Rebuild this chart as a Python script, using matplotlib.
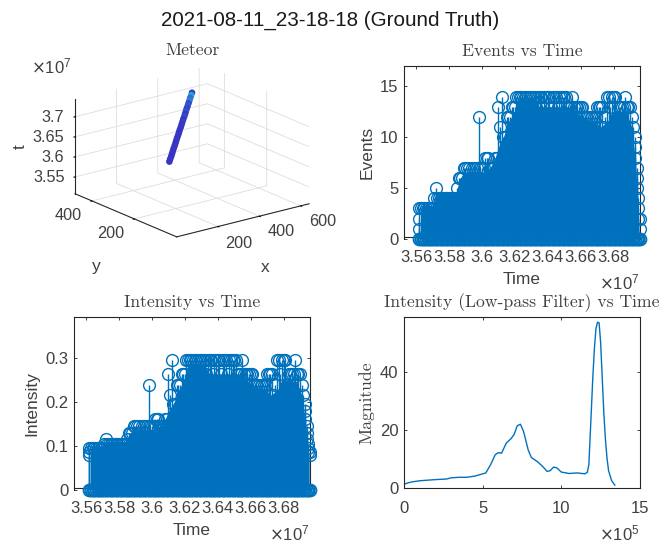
import matplotlib
matplotlib.use("Agg")
import matplotlib.pyplot as plt
from matplotlib.colors import LinearSegmentedColormap

plt.rcParams['font.family'] = ['Liberation Sans', 'DejaVu Sans']
W, H = 662, 545
BLUE = '#0072BD'
TXT = '#404040'

TITLE = '2021-08-11_23-18-18 (Ground Truth)'
TIME_TICKS = [3.56, 3.58, 3.6, 3.62, 3.64, 3.66, 3.68]
TIME_LABELS = ['3.56', '3.58', '3.6', '3.62', '3.64', '3.66', '3.68']
X3_TICKS = [200, 400, 600]
Y3_TICKS = [200, 400]
Z3_TICKS = [3.55, 3.6, 3.65, 3.7]
Z3_LABELS = ['3.55', '3.6', '3.65', '3.7']

# Meteor track: x, y pixels, t (x 1e7), colour level
MX = [368, 375, 383, 390, 397, 404, 412, 419, 426, 433, 441, 448, 455, 463, 470, 477, 484, 492, 499, 506, 513, 521, 528, 535, 542, 550, 557]
MY = [394, 397, 400, 403, 406, 409, 412, 415, 418, 421, 424, 427, 430, 433, 436, 439, 442, 445, 448, 451, 454, 457, 460, 463, 466, 469, 472]
MT = [3.56, 3.565, 3.57, 3.575, 3.58, 3.585, 3.59, 3.595, 3.6, 3.605, 3.61, 3.615, 3.62, 3.625, 3.63, 3.635, 3.64, 3.645, 3.65, 3.655, 3.66, 3.665, 3.67, 3.675, 3.68, 3.685, 3.69]
MC = [0.05, 0.05, 0.05, 0.05, 0.05, 0.05, 0.1, 0.05, 0.1, 0.1, 0.1, 0.05, 0.1, 0.15, 0.1, 0.2, 0.1, 0.3, 0.1, 0.4, 0.2, 0.4, 0.3, 0.7, 0.6, 0.9, 0.2]

# Tallest stem read at each time step (x 1e7)
TIME = [3.562, 3.563, 3.564, 3.565, 3.566, 3.567, 3.568, 3.569, 3.570, 3.571, 3.572, 3.573, 3.574, 3.575, 3.576,
        3.577, 3.578, 3.579, 3.580, 3.581, 3.582, 3.583, 3.584, 3.585, 3.586, 3.587, 3.588, 3.589, 3.590, 3.591,
        3.592, 3.593, 3.594, 3.595, 3.596, 3.597, 3.598, 3.599, 3.600, 3.601, 3.602, 3.603, 3.604, 3.605, 3.606,
        3.607, 3.608, 3.609, 3.610, 3.611, 3.612, 3.613, 3.614, 3.615, 3.616, 3.617, 3.618, 3.619, 3.620, 3.621,
        3.622, 3.623, 3.624, 3.625, 3.626, 3.627, 3.628, 3.629, 3.630, 3.631, 3.632, 3.633, 3.634, 3.635, 3.636,
        3.637, 3.638, 3.639, 3.640, 3.641, 3.642, 3.643, 3.644, 3.645, 3.646, 3.647, 3.648, 3.649, 3.650, 3.651,
        3.652, 3.653, 3.654, 3.655, 3.656, 3.657, 3.658, 3.659, 3.660, 3.661, 3.662, 3.663, 3.664, 3.665, 3.666,
        3.667, 3.668, 3.669, 3.670, 3.671, 3.672, 3.673, 3.674, 3.675, 3.676, 3.677, 3.678, 3.679, 3.680, 3.681,
        3.682, 3.683, 3.684, 3.685, 3.686, 3.687, 3.688, 3.689, 3.690, 3.691, 3.692, 3.693, 3.694, 3.695, 3.696]
EVENTS = [3, 3, 3, 3, 3, 3, 3, 3, 3, 4, 5, 4, 4, 4, 4,
          4, 4, 4, 4, 4, 4, 4, 4, 5, 6, 6, 6, 7, 7, 7,
          7, 6, 7, 7, 6, 7, 12, 7, 7, 7, 8, 8, 8, 7, 7,
          7, 8, 8, 13, 11, 14, 10, 10, 12, 12, 12, 13, 13, 13, 14,
          14, 14, 14, 14, 14, 14, 14, 14, 14, 14, 14, 13, 14, 14, 14,
          13, 14, 14, 14, 14, 13, 14, 14, 14, 13, 14, 14, 14, 14, 14,
          13, 13, 13, 14, 13, 13, 13, 13, 13, 13, 12, 12, 12, 12, 12,
          12, 12, 12, 13, 13, 13, 13, 11, 12, 14, 14, 13, 14, 14, 14,
          12, 13, 13, 13, 13, 14, 13, 13, 13, 12, 11, 9, 7, 4, 2]
INTENSITY = [.095, .095, .095, .095, .095, .095, .095, .095, .095, .105, .115, .105, .105, .105, .105,
             .105, .105, .105, .105, .105, .105, .105, .105, .115, .13, .13, .13, .145, .145, .145,
             .145, .13, .145, .145, .13, .145, .237, .145, .145, .145, .16, .16, .16, .145, .145,
             .145, .16, .16, .263, .215, .295, .195, .195, .237, .237, .237, .263, .263, .263, .295,
             .295, .295, .295, .295, .295, .295, .295, .295, .295, .295, .295, .263, .295, .295, .295,
             .263, .295, .295, .295, .295, .263, .295, .295, .295, .263, .295, .295, .295, .295, .295,
             .263, .263, .263, .295, .263, .263, .263, .263, .263, .263, .237, .237, .237, .237, .237,
             .237, .237, .237, .263, .263, .263, .263, .215, .237, .295, .295, .263, .295, .295, .295,
             .237, .263, .263, .263, .263, .295, .263, .263, .263, .237, .215, .178, .145, .105, .085]
# Lower circles visible beyond the solid block at each end
EDGE_T = [3.562, 3.562, 3.693, 3.693, 3.694, 3.694, 3.695, 3.695, 3.696]
EDGE_E = [1, 2, 10, 8, 6, 5, 3, 2, 1]
EDGE_I = [.08, .085, .195, .16, .13, .115, .095, .085, .08]
# Height up to which the overlapping stems read as a solid block
SOLID_T = [3.563, 3.570, 3.571, 3.573, 3.584, 3.585, 3.587, 3.589, 3.596, 3.600, 3.605, 3.608, 3.610, 3.613, 3.616, 3.620,
           3.622, 3.632, 3.635, 3.652, 3.655, 3.660, 3.668, 3.672, 3.676, 3.680, 3.688, 3.691, 3.693, 3.695]
SOLID_E = [3.3, 3.3, 3.6, 4.4, 4.4, 5, 6, 6.6, 6.4, 6.5, 7, 8, 9, 10, 11.5, 12.5,
           13.7, 13.7, 13, 13, 12.8, 12, 11.5, 11, 11.5, 12.5, 12.3, 11, 8, 3]
SOLID_I = [.1, .1, .102, .11, .11, .115, .13, .14, .135, .137, .145, .16, .178, .195, .225, .25,
           .285, .285, .263, .263, .26, .24, .225, .215, .225, .25, .245, .215, .16, .095]

# Low-pass curve (x 1e5)
LP_X = [0, 0.2, 0.5, 1, 1.5, 2, 2.7, 3, 3.5, 4, 4.5, 5.2, 5.5, 5.8, 6, 6.2, 6.5, 6.8, 7, 7.2, 7.4, 7.6, 7.9, 8.1, 8.5,
        8.8, 9.1, 9.3, 9.5, 9.7, 10, 10.5, 11, 11.5, 11.65, 11.75, 11.85, 12, 12.1, 12.2, 12.3, 12.4, 12.5, 12.6, 12.7, 12.8, 12.9, 13, 13.2, 13.4]
LP_Y = [1.2, 1.7, 2.1, 2.5, 2.7, 2.9, 3.1, 3.5, 3.7, 3.7, 4.1, 5.2, 8, 11.5, 12.2, 12, 15.5, 17, 18.5, 21.5, 22, 19.5, 13, 10.5, 9,
        7.5, 5.7, 6, 7.2, 7, 5.5, 5, 5.2, 4.9, 5.4, 8, 20, 38, 48, 55, 57.2, 57, 50, 38, 26, 17, 10.5, 6, 2.5, 1]


def rect(l, t, r, b):
    return [l / W, 1 - b / H, (r - l) / W, (b - t) / H]


def ptext(x, y, s, **kw):
    kw.setdefault('ha', 'center')
    kw.setdefault('va', 'center')
    kw.setdefault('color', TXT)
    fig.text(x / W, 1 - y / H, s, **kw)


def style2d(ax, title, xlabel):
    ax.set_title(title, family='cmr10', fontsize=12.7, color=TXT, pad=7)
    ax.set_xlabel(xlabel, fontsize=12.5, color=TXT, labelpad=5)
    ax.tick_params(direction='in', top=True, right=True, length=2.5, width=0.6, color='#262626',
                   labelsize=12, labelcolor=TXT)
    ax.tick_params(axis='x', pad=9.5)
    ax.tick_params(axis='y', pad=4)
    for s in ax.spines.values():
        s.set_linewidth(0.8)
        s.set_color('#262626')


def stems(ax, ys, solid, ey):
    ax.fill_between(SOLID_T, 0, solid, color=BLUE, lw=0, zorder=3)
    ax.vlines(TIME, 0, ys, color=BLUE, lw=1.0, zorder=3)
    ax.vlines(EDGE_T, 0, ey, color=BLUE, lw=1.0, zorder=3)
    ax.plot(TIME, ys, 'o', mfc='none', mec=BLUE, ms=8.5, mew=1.0, clip_on=False, zorder=3)
    ax.plot(EDGE_T, ey, 'o', mfc='none', mec=BLUE, ms=8.5, mew=1.0, clip_on=False, zorder=3)
    ax.plot(TIME, [0] * len(TIME), 'o', mfc='none', mec=BLUE, ms=8.5, mew=1.4, clip_on=False, zorder=3)
    ax.set_xlim(3.5527, 3.696)
    ax.set_xticks(TIME_TICKS, TIME_LABELS)


fig = plt.figure(figsize=(W / 100, H / 100), dpi=100)
ptext(330, 20, TITLE, fontsize=14.9, color='#1a1a1a')

# Meteor
ax = fig.add_axes(rect(37, 59, 342, 249), projection='3d')
ax.set_proj_type('ortho')
ax.view_init(elev=19, azim=-127.5)
ax.set_box_aspect((1, 1, 0.6), zoom=1.31)
cmap = LinearSegmentedColormap.from_list('track', ['#3a2fc0', '#2f5fd0', '#30b0d8'])
ax.scatter(MX, MY, MT, c=MC, cmap=cmap, vmin=0, vmax=1, s=14, depthshade=False)
ax.set_xlim(0, 640)
ax.set_ylim(0, 480)
ax.set_zlim(3.508, 3.744)
ax.set_xticks(X3_TICKS, ['', '', ''])
ax.set_yticks(Y3_TICKS, ['', ''])
ax.set_zticks(Z3_TICKS, ['', '', '', ''])
for a in (ax.xaxis, ax.yaxis, ax.zaxis):
    a.set_pane_color((1, 1, 1, 0))
    a._axinfo['grid'].update(color='#dddddd', linewidth=0.6)
    a._axinfo['tick'].update(inward_factor=0.1, outward_factor=0.0)
    a.line.set_color('#262626')
    a.line.set_linewidth(0.8)
ax.patch.set_alpha(0)
for px, py, tick in zip([239, 281, 323], [243, 232, 222], X3_TICKS):
    ptext(px, py, str(tick), fontsize=11.7)
for px, py, tick in zip([111, 68], [234, 215], Y3_TICKS):
    ptext(px, py, str(tick), fontsize=11.7)
for py, lab in zip([178, 157, 137, 117], Z3_LABELS):
    ptext(64.5, py, lab, fontsize=11.7, ha='right')
ptext(265, 268, 'x', fontsize=12.5)
ptext(96, 266, 'y', fontsize=12.5)
ptext(20, 147, 't', fontsize=12.5, rotation=90)
ptext(193, 50, 'Meteor', family='cmr10', fontsize=12.7)
ptext(31, 66, r'$\times\mathdefault{10^{7}}$', ha='left', fontsize=12)

# Events
ax = fig.add_axes(rect(404, 66, 640, 239))
stems(ax, EVENTS, SOLID_E, EDGE_E)
ax.set_ylim(0, 17)
ax.set_yticks([0, 5, 10, 15])
ax.set_ylabel('Events', fontsize=12.5, color=TXT, labelpad=4)
style2d(ax, 'Events vs Time', 'Time')
ax.spines['bottom'].set_position(('outward', -1.4))
ptext(640, 282, r'$\times\mathdefault{10^{7}}$', ha='right', fontsize=12)

# Intensity
ax = fig.add_axes(rect(74, 317, 310, 490))
stems(ax, INTENSITY, SOLID_I, EDGE_I)
ax.set_ylim(0, 0.392)
ax.set_yticks([0, 0.1, 0.2, 0.3], ['0', '0.1', '0.2', '0.3'])
ax.set_ylabel('Intensity', fontsize=12.5, color=TXT, labelpad=4)
style2d(ax, 'Intensity vs Time', 'Time')
ax.spines['bottom'].set_position(('outward', -1.4))
ptext(310, 533, r'$\times\mathdefault{10^{7}}$', ha='right', fontsize=12)

# Low-pass
ax = fig.add_axes(rect(404, 317, 640, 488))
ax.plot(LP_X, LP_Y, color=BLUE, lw=1.0)
ax.set_xlim(0, 15)
ax.set_ylim(0, 59)
ax.set_xticks([0, 5, 10, 15], ['0', '5', '10', '15'])
ax.set_yticks([0, 20, 40])
ax.set_ylabel('Magnitude', family='cmr10', fontsize=12.7, color=TXT, labelpad=4)
style2d(ax, 'Intensity (Low-pass Filter) vs Time', '')
ptext(640, 533, r'$\times\mathdefault{10^{5}}$', ha='right', fontsize=12)

fig.savefig('out.png', dpi=100)
